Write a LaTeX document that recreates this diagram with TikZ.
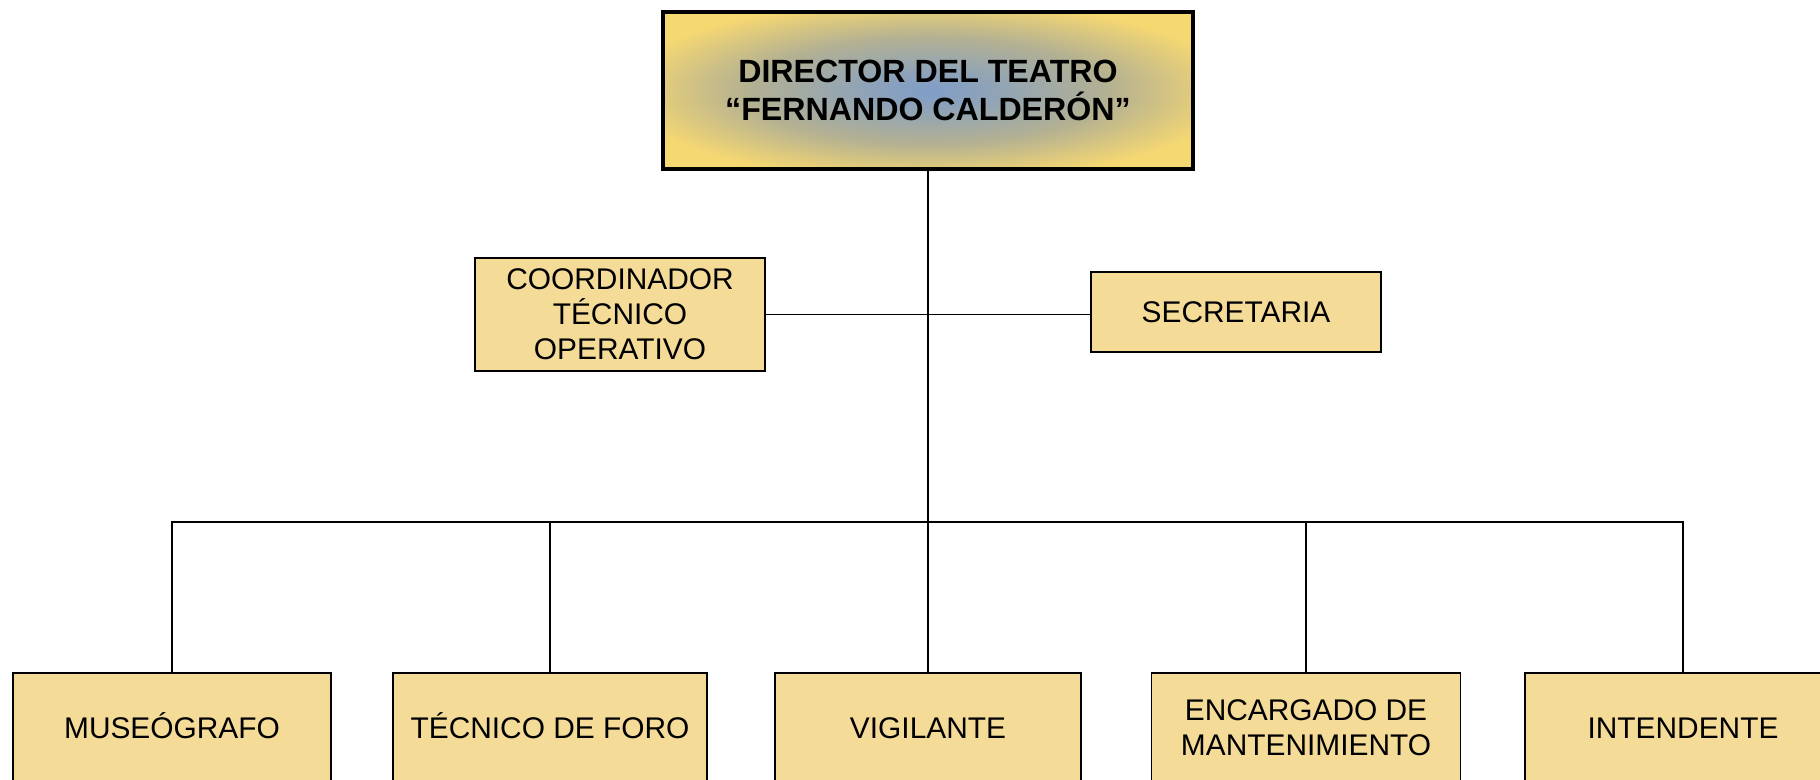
\documentclass[tikz,border=0pt]{standalone}
\usepackage{fontspec}
\setmainfont{Liberation Sans}
\usetikzlibrary{calc}

\definecolor{boxfill}{HTML}{F4DB97}
\definecolor{dirgold}{HTML}{F6D872}
\definecolor{dirmid}{HTML}{B4B192}
\definecolor{dirblue}{HTML}{7F9DC8}
\pgfdeclareradialshading{dirshade}{\pgfpoint{0bp}{0bp}}{color(0bp)=(dirblue); color(6bp)=(dirblue!70!dirmid); color(17bp)=(dirmid); color(29bp)=(dirgold); color(50bp)=(dirgold)}

\begin{document}
\begin{tikzpicture}[
	puesto/.style={draw=black,line width=0.7pt,fill=boxfill,align=center,inner sep=2pt,
		font=\fontsize{17}{20}\selectfont},
	unalinea/.style={text height=12.5pt,text depth=0pt},
	director/.style={draw=black,line width=2.4pt,shading=dirshade,
		align=center,font=\fontsize{18.3}{22}\selectfont\bfseries},
	linea/.style={line width=0.7pt}]
	\useasboundingbox (0,0) rectangle (36.4,-15.6);
	% director
	\node[director,minimum width=10.6cm,minimum height=3.14cm] (dir) at (18.56,-1.81)
		{DIRECTOR DEL TEATRO\\“FERNANDO CALDERÓN”};
	% staff
	\node[puesto,minimum width=5.8cm,minimum height=2.26cm] (coord) at (12.4,-6.29)
		{COORDINADOR\\TÉCNICO\\OPERATIVO};
	\node[puesto,unalinea,minimum width=5.8cm,minimum height=1.6cm] (sec) at (24.72,-6.24) {SECRETARIA};
	\coordinate (bus) at (18.56,-10.44);
	% departments
	\node[puesto,unalinea,minimum width=6.36cm,minimum height=2.2cm] (mus) at (3.44,-14.56) {MUSEÓGRAFO};
	\node[puesto,unalinea,minimum width=6.28cm,minimum height=2.2cm] (tec) at (11.0,-14.56) {TÉCNICO DE FORO};
	\node[puesto,unalinea,minimum width=6.12cm,minimum height=2.2cm] (vig) at (18.56,-14.56) {VIGILANTE};
	\node[puesto,minimum width=6.18cm,minimum height=2.2cm] (enc) at (26.12,-14.56) {ENCARGADO DE\\MANTENIMIENTO};
	\node[puesto,unalinea,minimum width=6.32cm,minimum height=2.2cm] (int) at (33.66,-14.56) {INTENDENTE};
	% lines
	\draw[linea] (dir.south) -- (vig.north);
	\draw[linea] (coord.east) -- (coord.east -| sec.west);
	\draw[linea] (mus.north) |- (bus) -| (int.north);
	\draw[linea] (tec.north) -- (tec.north |- bus);
	\draw[linea] (enc.north) -- (enc.north |- bus);
\end{tikzpicture}
\end{document}
